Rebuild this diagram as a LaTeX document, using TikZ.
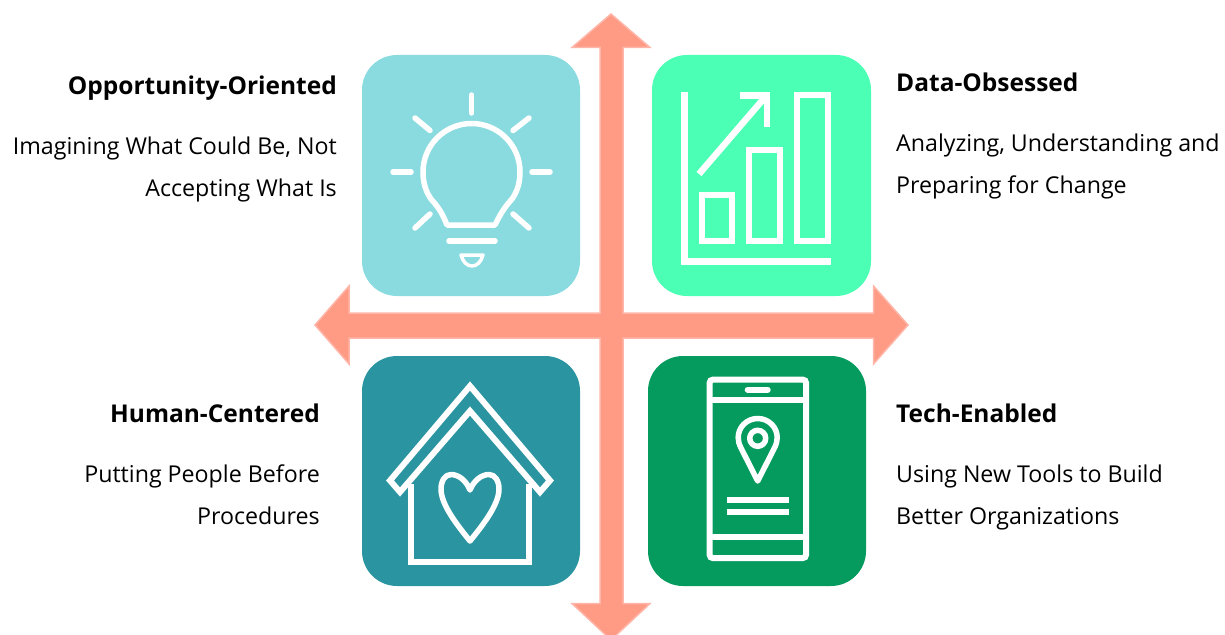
\documentclass[tikz,border=0pt]{standalone}
\usepackage{fontspec}
\setmainfont{Open Sans}
\definecolor{crossfill}{HTML}{FF9A85}
\definecolor{crossedge}{HTML}{FFB6A8}
\definecolor{bulbcard}{HTML}{8ADBE0}
\definecolor{chartcard}{HTML}{4BFFB5}
\definecolor{housecard}{HTML}{2A94A0}
\definecolor{phonecard}{HTML}{059B5E}
\tikzset{
  card/.style={draw=none,rounded corners=35pt,inner sep=0pt},
  heading/.style={inner sep=0pt,font=\fontsize{24.5}{29}\selectfont\bfseries},
  blurb/.style={inner sep=0pt,font=\fontsize{23.2}{42}\selectfont},
  icon/.style={draw=white,line width=6pt},
  thin icon/.style={draw=white,line width=5.5pt,line cap=round,line join=round}
}

\begin{document}
\begin{tikzpicture}[x=1pt,y=-1pt]
\useasboundingbox (0,0) rectangle (1225,634);

% The cross
\path[fill=crossfill,draw=crossedge,line width=1.5pt] (611,14) -- (650,47.5) -- (623,47.5) -- (623,313) -- (873.5,313) -- (873.5,286) -- (908,325) -- (873.5,364) -- (873.5,338) -- (623,338) -- (623,603.5) -- (650,603.5) -- (611,640) -- (572,603.5) -- (600,603.5) -- (600,338) -- (349,338) -- (349,364) -- (315,325) -- (349,286) -- (349,313) -- (600,313) -- (600,47.5) -- (572,47.5) -- cycle;

% The cards
\node[card,fill=bulbcard,minimum width=218pt,minimum height=241pt] (bulb) at (471,175.5) {};
\node[card,fill=chartcard,minimum width=219pt,minimum height=241pt] (chart) at (761.5,175.5) {};
\node[card,fill=housecard,minimum width=218pt,minimum height=230pt] (house) at (471,471) {};
\node[card,fill=phonecard,minimum width=218pt,minimum height=230pt] (phone) at (757,471) {};

% The bulb
\foreach \xa/\ya/\xb/\yb in {471.7/95/471.7/113, 393/172/411/172, 532/172/550/172, 415/118/430/130.5, 529/118/513/130.5, 430/214/415/228, 513/214/529/228}
  \draw[thin icon] (\xa,\ya) -- (\xb,\yb);
\draw[thin icon] (447,225) -- (495,225) .. controls (500,215) and (503,209) .. (512,199) .. controls (517,192) and (520,183) .. (520,172) .. controls (520,145) and (498,123.5) .. (471.7,123.5) .. controls (445,123.5) and (423,145) .. (423,172) .. controls (423,183) and (426,192) .. (431,199) .. controls (440,209) and (443,215) .. (447,225) -- cycle;
\draw[thin icon] (449,241) -- (495,241);
\draw[thin icon,line width=3.5pt] (461,255) -- (483,255) .. controls (481,262) and (477,266) .. (472,266) .. controls (467,266) and (463,262) .. (461,255) -- cycle;

% The chart
\draw[icon,line width=6.5pt] (684.5,92) -- (684.5,261.5) -- (831,261.5);
\draw[icon] (702,195) rectangle (732.3,241.3);
\draw[icon] (749.3,149.7) rectangle (780.3,241.3);
\draw[icon] (797,94.7) rectangle (828,241.3);
\draw[icon,line width=6.5pt] (699,174) -- (766,96);
\draw[icon,line width=6.5pt] (740,95.3) -- (767,95.3) -- (767,126.7);

% The house
\draw[icon] (470,386) -- (390,480.5) -- (400,492) -- (470,411) -- (540,492) -- (550,480.5) -- cycle;
\draw[icon] (411,484) -- (411,562) -- (528.5,562) -- (528.5,484);
\draw[thin icon] (470,490) .. controls (466,480) and (458,474.5) .. (451,474.5) .. controls (445,474.5) and (441,481) .. (441,489) .. controls (441,505) and (458,526) .. (470,541) .. controls (482,526) and (499,505) .. (499,489) .. controls (499,481) and (495,474.5) .. (489,474.5) .. controls (482,474.5) and (474,480) .. (470,490) -- cycle;

% The phone
\draw[icon,rounded corners=3pt] (709.7,379.7) rectangle (806,558);
\draw[icon] (709.7,400) -- (806,400);
\draw[icon] (709.7,537) -- (806,537);
\draw[icon,line cap=round] (747.7,389.7) -- (767.7,389.7);
\draw[icon] (726.7,499.8) -- (789,499.8);
\draw[icon] (726.7,512.2) -- (789,512.2);
\draw[thin icon] (757.7,481) -- (741,448) .. controls (739,444) and (738.2,441) .. (738.2,437.5) .. controls (738.2,427) and (747,418.5) .. (757.7,418.5) .. controls (768.4,418.5) and (777.2,427) .. (777.2,437.5) .. controls (777.2,441) and (776.4,444) .. (774.4,448) -- cycle;
\draw[thin icon] (757.7,438.3) circle (8);

% The labels
\node[heading,anchor=base east] (bulbtitle) at (337,94) {Opportunity-Oriented};
\node[blurb,anchor=base east,align=right] (bulbtext) at (337,196) {Imagining What Could Be, Not\\Accepting What Is};
\node[heading,anchor=base west] (charttitle) at (896,92) {Data-Obsessed};
\node[blurb,anchor=base west,align=left] (charttext) at (896,193) {Analyzing, Understanding and\\Preparing for Change};
\node[heading,anchor=base east] (housetitle) at (320,422) {Human-Centered};
\node[blurb,anchor=base east,align=right] (housetext) at (320,524) {Putting People Before\\Procedures};
\node[heading,anchor=base west] (phonetitle) at (896,422) {Tech-Enabled};
\node[blurb,anchor=base west,align=left] (phonetext) at (896,524) {Using New Tools to Build\\Better Organizations};
\end{tikzpicture}
\end{document}
